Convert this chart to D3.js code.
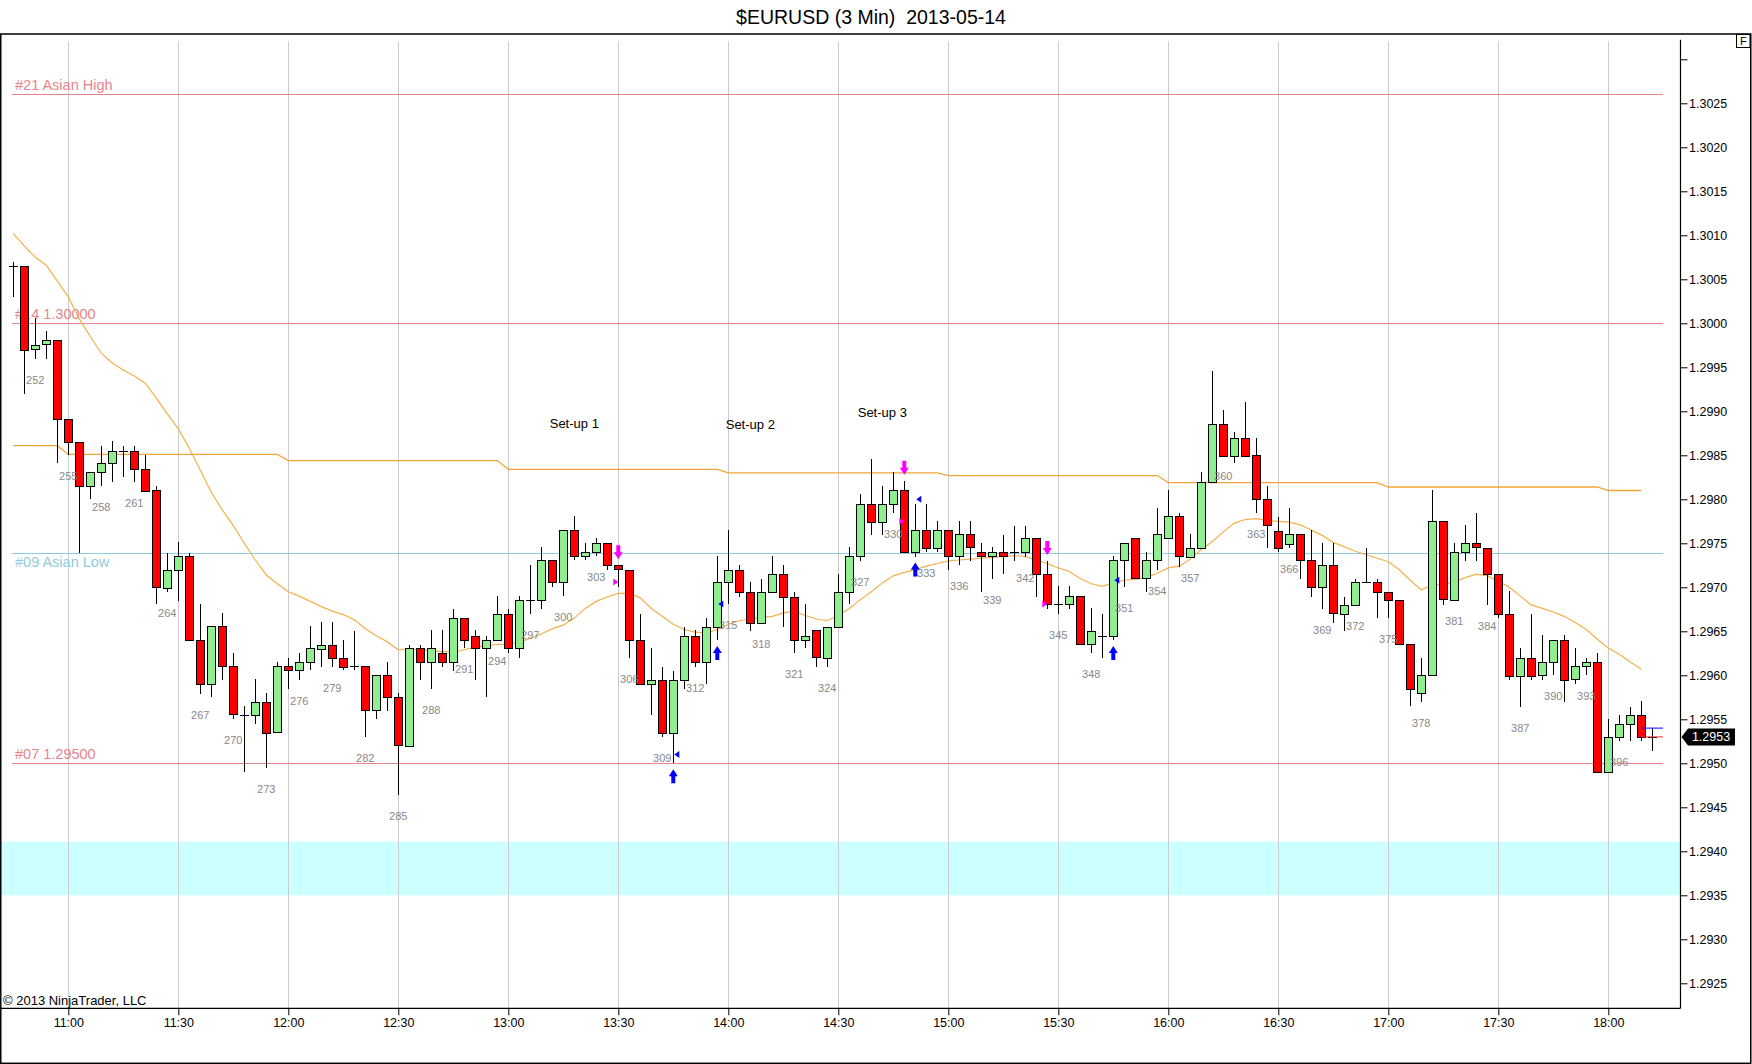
<!DOCTYPE html>
<html><head><meta charset="utf-8">
<script src="https://cdn.jsdelivr.net/npm/d3@7"></script>
<style>
html,body{margin:0;padding:0;background:#fff;}
svg{display:block;font-family:"Liberation Sans",Arial,sans-serif;}
</style></head><body>
<svg id="chart" width="1752" height="1064"></svg>
<script>
// ---------------- DATA ----------------
const chartTitle = "$EURUSD (3 Min)  2013-05-14";
const firstBar = 250;
const lastBar = 399;

const openP = [
1.30065,1.30065,1.29970,1.29976,1.29981,1.29891,1.29865,1.29815,1.29831,1.29841,
1.29855,1.29855,1.29835,1.29810,1.29700,1.29720,1.29736,1.29640,1.29590,1.29656,
1.29610,1.29555,1.29555,1.29570,1.29535,1.29610,1.29606,1.29615,1.29631,1.29635,
1.29620,1.29610,1.29610,1.29560,1.29600,1.29575,1.29520,1.29631,1.29615,1.29625,
1.29615,1.29665,1.29645,1.29631,1.29640,1.29670,1.29631,1.29685,1.29685,1.29731,
1.29706,1.29765,1.29736,1.29740,1.29750,1.29725,1.29720,1.29640,1.29590,1.29595,
1.29535,1.29595,1.29645,1.29615,1.29655,1.29706,1.29720,1.29695,1.29660,1.29695,
1.29715,1.29689,1.29640,1.29651,1.29620,1.29655,1.29695,1.29736,1.29795,1.29775,
1.29795,1.29811,1.29740,1.29765,1.29745,1.29765,1.29735,1.29760,1.29740,1.29735,
1.29740,1.29740,1.29740,1.29756,1.29715,1.29681,1.29681,1.29690,1.29635,1.29645,
1.29645,1.29731,1.29756,1.29710,1.29731,1.29756,1.29781,1.29735,1.29745,1.29820,
1.29886,1.29850,1.29870,1.29850,1.29800,1.29764,1.29750,1.29761,1.29731,1.29700,
1.29725,1.29670,1.29680,1.29706,1.29706,1.29695,1.29686,1.29636,1.29580,1.29600,
1.29775,1.29686,1.29740,1.29750,1.29745,1.29715,1.29670,1.29600,1.29620,1.29600,
1.29615,1.29640,1.29595,1.29610,1.29615,1.29490,1.29530,1.29545,1.29555,1.29530];

const highP = [
1.30070,1.30065,1.30006,1.29991,1.29981,1.29891,1.29865,1.29831,1.29861,1.29866,
1.29861,1.29861,1.29850,1.29815,1.29739,1.29751,1.29739,1.29681,1.29656,1.29671,
1.29625,1.29565,1.29596,1.29580,1.29615,1.29620,1.29625,1.29656,1.29661,1.29661,
1.29640,1.29650,1.29610,1.29600,1.29615,1.29580,1.29635,1.29635,1.29651,1.29651,
1.29675,1.29665,1.29651,1.29645,1.29690,1.29675,1.29690,1.29725,1.29746,1.29731,
1.29765,1.29781,1.29750,1.29756,1.29750,1.29725,1.29720,1.29670,1.29631,1.29610,
1.29605,1.29655,1.29651,1.29665,1.29736,1.29765,1.29725,1.29706,1.29710,1.29736,
1.29725,1.29695,1.29681,1.29651,1.29655,1.29715,1.29746,1.29806,1.29846,1.29815,
1.29831,1.29821,1.29795,1.29795,1.29775,1.29765,1.29775,1.29775,1.29750,1.29746,
1.29760,1.29770,1.29770,1.29756,1.29730,1.29701,1.29701,1.29690,1.29676,1.29670,
1.29736,1.29750,1.29756,1.29740,1.29790,1.29811,1.29785,1.29761,1.29831,1.29946,
1.29901,1.29876,1.29911,1.29870,1.29815,1.29780,1.29790,1.29761,1.29765,1.29750,
1.29750,1.29689,1.29710,1.29745,1.29710,1.29695,1.29686,1.29636,1.29620,1.29811,
1.29775,1.29750,1.29771,1.29785,1.29745,1.29715,1.29696,1.29631,1.29670,1.29646,
1.29640,1.29646,1.29631,1.29620,1.29625,1.29550,1.29555,1.29564,1.29571,1.29540];

const lowP = [
1.30030,1.29920,1.29960,1.29960,1.29841,1.29850,1.29739,1.29800,1.29815,1.29820,
1.29825,1.29820,1.29810,1.29681,1.29695,1.29684,1.29640,1.29579,1.29575,1.29595,
1.29550,1.29490,1.29545,1.29495,1.29535,1.29585,1.29595,1.29606,1.29610,1.29610,
1.29606,1.29606,1.29530,1.29550,1.29560,1.29464,1.29520,1.29595,1.29585,1.29610,
1.29605,1.29631,1.29595,1.29575,1.29640,1.29625,1.29620,1.29670,1.29675,1.29700,
1.29690,1.29731,1.29731,1.29736,1.29720,1.29700,1.29620,1.29590,1.29555,1.29530,
1.29500,1.29585,1.29610,1.29590,1.29640,1.29681,1.29689,1.29650,1.29660,1.29695,
1.29655,1.29625,1.29631,1.29610,1.29610,1.29655,1.29681,1.29730,1.29760,1.29760,
1.29785,1.29740,1.29735,1.29740,1.29740,1.29720,1.29725,1.29730,1.29695,1.29710,
1.29715,1.29730,1.29735,1.29689,1.29675,1.29670,1.29675,1.29635,1.29625,1.29620,
1.29640,1.29700,1.29710,1.29695,1.29720,1.29756,1.29723,1.29735,1.29745,1.29820,
1.29850,1.29841,1.29850,1.29785,1.29745,1.29740,1.29745,1.29710,1.29689,1.29675,
1.29660,1.29650,1.29680,1.29706,1.29665,1.29665,1.29636,1.29565,1.29570,1.29600,
1.29680,1.29686,1.29730,1.29730,1.29680,1.29665,1.29595,1.29564,1.29595,1.29595,
1.29600,1.29570,1.29590,1.29600,1.29490,1.29490,1.29525,1.29525,1.29525,1.29514];

const closeP = [
1.30065,1.29970,1.29975,1.29981,1.29891,1.29865,1.29815,1.29831,1.29841,1.29855,
1.29855,1.29835,1.29810,1.29700,1.29720,1.29736,1.29640,1.29590,1.29656,1.29610,
1.29555,1.29555,1.29570,1.29535,1.29610,1.29606,1.29615,1.29631,1.29635,1.29620,
1.29610,1.29610,1.29560,1.29600,1.29575,1.29520,1.29631,1.29615,1.29631,1.29615,
1.29665,1.29640,1.29631,1.29640,1.29670,1.29631,1.29685,1.29685,1.29731,1.29706,
1.29765,1.29736,1.29740,1.29750,1.29725,1.29720,1.29640,1.29590,1.29595,1.29535,
1.29595,1.29645,1.29615,1.29655,1.29706,1.29720,1.29695,1.29660,1.29695,1.29715,
1.29689,1.29640,1.29645,1.29620,1.29655,1.29695,1.29736,1.29795,1.29775,1.29795,
1.29811,1.29740,1.29765,1.29745,1.29765,1.29735,1.29760,1.29745,1.29735,1.29740,
1.29735,1.29740,1.29756,1.29715,1.29681,1.29681,1.29690,1.29635,1.29650,1.29645,
1.29731,1.29750,1.29710,1.29731,1.29761,1.29781,1.29735,1.29745,1.29820,1.29886,
1.29850,1.29870,1.29850,1.29800,1.29770,1.29745,1.29761,1.29731,1.29700,1.29725,
1.29670,1.29680,1.29706,1.29706,1.29695,1.29686,1.29636,1.29585,1.29600,1.29775,
1.29686,1.29740,1.29750,1.29745,1.29715,1.29670,1.29600,1.29620,1.29600,1.29615,
1.29640,1.29595,1.29610,1.29615,1.29490,1.29530,1.29545,1.29555,1.29530,1.29530];

// fast moving average (bars 250..398)
const fastMA = [
1.30102,1.30088,1.30075,1.30066,1.30048,1.30030,1.30005,1.29985,1.29966,1.29955,
1.29947,1.29940,1.29932,1.29915,1.29897,1.29880,1.29858,1.29833,1.29808,1.29788,
1.29770,1.29750,1.29731,1.29714,1.29704,1.29695,1.29690,1.29684,1.29678,1.29673,
1.29669,1.29663,1.29653,1.29645,1.29638,1.29629,1.29630,1.29629,1.29628,1.29627,
1.29626,1.29629,1.29632,1.29634,1.29635,1.29635,1.29638,1.29642,1.29647,1.29653,
1.29657,1.29665,1.29676,1.29684,1.29689,1.29693,1.29693,1.29688,1.29676,1.29667,
1.29658,1.29652,1.29649,1.29648,1.29652,1.29658,1.29662,1.29664,1.29666,1.29667,
1.29671,1.29673,1.29668,1.29664,1.29662,1.29668,1.29676,1.29686,1.29695,1.29705,
1.29713,1.29717,1.29720,1.29724,1.29727,1.29730,1.29731,1.29732,1.29733,1.29734,
1.29735,1.29736,1.29735,1.29731,1.29727,1.29722,1.29718,1.29710,1.29704,1.29701,
1.29705,1.29708,1.29709,1.29711,1.29716,1.29722,1.29724,1.29732,1.29743,1.29752,
1.29763,1.29773,1.29777,1.29778,1.29776,1.29775,1.29774,1.29771,1.29765,1.29759,
1.29751,1.29746,1.29741,1.29737,1.29733,1.29729,1.29720,1.29708,1.29697,1.29703,
1.29703,1.29706,1.29711,1.29715,1.29713,1.29707,1.29700,1.29690,1.29680,1.29676,
1.29672,1.29667,1.29660,1.29652,1.29641,1.29631,1.29624,1.29615,1.29607];

// slow stepped line (bars 250..398)
const slowMA = [
1.29861,1.29861,1.29861,1.29861,1.29861,
1.29851,1.29851,1.29851,1.29851,1.29851,1.29851,1.29851,1.29851,1.29851,1.29851,
1.29851,1.29851,1.29851,1.29851,1.29851,1.29851,1.29851,1.29851,1.29851,1.29851,
1.29844,1.29844,1.29844,1.29844,1.29844,1.29844,1.29844,1.29844,1.29844,1.29844,
1.29844,1.29844,1.29844,1.29844,1.29844,1.29844,1.29844,1.29844,1.29844,1.29844,
1.29834,1.29834,1.29834,1.29834,1.29834,1.29834,1.29834,1.29834,1.29834,1.29834,
1.29834,1.29834,1.29834,1.29834,1.29834,1.29834,1.29834,1.29834,1.29834,1.29834,
1.29830,1.29830,1.29830,1.29830,1.29830,1.29830,1.29830,1.29830,1.29830,1.29830,
1.29830,1.29830,1.29830,1.29830,1.29830,1.29830,1.29830,1.29830,1.29830,1.29830,
1.29827,1.29827,1.29827,1.29827,1.29827,1.29827,1.29827,1.29827,1.29827,1.29827,
1.29827,1.29827,1.29827,1.29827,1.29827,1.29827,1.29827,1.29827,1.29827,1.29827,
1.29819,1.29819,1.29819,1.29819,1.29819,1.29819,1.29819,1.29819,1.29819,1.29819,
1.29819,1.29819,1.29819,1.29819,1.29819,1.29819,1.29819,1.29819,1.29819,1.29819,
1.29814,1.29814,1.29814,1.29814,1.29814,1.29814,1.29814,1.29814,1.29814,1.29814,
1.29814,1.29814,1.29814,1.29814,1.29814,1.29814,1.29814,1.29814,1.29814,1.29814,
1.29810,1.29810,1.29810,1.29810];

const levelNames  = ["#21 Asian High", "#14 1.30000", "#09 Asian Low", "#07 1.29500"];
const levelPrices = [1.30261, 1.30000, 1.29739, 1.29500];
const levelColors = ["#e8838d", "#e8838d", "#8fcbe0", "#e8838d"];
const levelLabelBelow = [false, false, true, false];

const zoneLow = 1.29350, zoneHigh = 1.29411;

const timeBars   = [255,265,275,285,295,305,315,325,335,345,355,365,375,385,395];
const timeLabels = ["11:00","11:30","12:00","12:30","13:00","13:30","14:00","14:30","15:00","15:30","16:00","16:30","17:00","17:30","18:00"];

const priceTicks = [1.2925,1.2930,1.2935,1.2940,1.2945,1.2950,1.2955,1.2960,1.2965,1.2970,1.2975,1.2980,1.2985,1.2990,1.2995,1.3000,1.3005,1.3010,1.3015,1.3020,1.3025,1.3030];

const setupNames  = ["Set-up 1", "Set-up 2", "Set-up 3"];
const setupBars   = [301, 317, 329];
const setupPrices = [1.29887, 1.29886, 1.29899];

const sellArrowBars = [305, 331, 344];
const buyArrowBars  = [310, 314, 332, 350];
const sellMarkBars   = [305, 331, 344];
const sellMarkPrices = [1.29706, 1.29775, 1.29681];
const buyMarkBars    = [310, 314, 332, 350];
const buyMarkPrices  = [1.29510, 1.29681, 1.29800, 1.29708];

const lastPrice = 1.2953;
const askPrice = 1.2954;

// ---------------- DRAW ----------------
const svg = d3.select("#chart");
const plotTop = 41.7, plotBottom = 1008.3, axisX = 1680.5;

const x = d3.scaleLinear().domain([firstBar, lastBar]).range([13.3, 1652.3]);
const y = d3.scaleLinear().domain([1.2925, 1.3030]).range([983.3, 59.3]);

// title
svg.append("text").attr("x", 871).attr("y", 23.5).attr("text-anchor", "middle")
  .attr("font-size", 19.5).attr("fill", "#000").style("white-space", "pre")
  .attr("xml:space", "preserve").text(chartTitle);

// zone
svg.append("rect").attr("x", 1).attr("width", axisX - 1)
  .attr("y", y(zoneHigh)).attr("height", y(zoneLow) - y(zoneHigh)).attr("fill", "#ccffff");

// time gridlines
svg.append("g").selectAll("line").data(timeBars).join("line")
  .attr("x1", d => Math.round(x(d)) + 0.5).attr("x2", d => Math.round(x(d)) + 0.5)
  .attr("y1", plotTop).attr("y2", plotBottom)
  .attr("stroke", "#cbcbcb").attr("stroke-width", 1);

// level lines
const lv = svg.append("g");
levelPrices.forEach((p, k) => {
  const yy = Math.round(y(p)) + 0.5;
  lv.append("line").attr("x1", 11.7).attr("x2", 1663).attr("y1", yy).attr("y2", yy)
    .attr("stroke", levelColors[k]).attr("stroke-width", 1);
  lv.append("text").attr("x", 15).attr("y", levelLabelBelow[k] ? yy + 13 : yy - 4.5)
    .attr("font-size", 14.5).attr("fill", levelColors[k]).text(levelNames[k]);
});

// moving averages
const lineGen = d3.line().x((d, k) => x(firstBar + k)).y(d => y(d));
svg.append("path").attr("d", lineGen(slowMA)).attr("fill", "none")
  .attr("stroke", "#f2a536").attr("stroke-width", 1.3);
svg.append("path").attr("d", lineGen(fastMA)).attr("fill", "none")
  .attr("stroke", "#f4b04a").attr("stroke-width", 1.2);

// candles
const bars = d3.range(openP.length).map(k => ({
  i: firstBar + k, o: openP[k], h: highP[k], l: lowP[k], c: closeP[k]
}));
const cg = svg.append("g").attr("shape-rendering", "crispEdges");
const bw = 8;
bars.forEach(b => {
  const cx = Math.round(x(b.i)) + 0.5;
  cg.append("line").attr("x1", cx).attr("x2", cx)
    .attr("y1", y(b.h)).attr("y2", y(b.l)).attr("stroke", "#000").attr("stroke-width", 1);
  if (b.o === b.c) {
    cg.append("line").attr("x1", cx - bw / 2 - 0.5).attr("x2", cx + bw / 2 + 0.5)
      .attr("y1", Math.round(y(b.o)) + 0.5).attr("y2", Math.round(y(b.o)) + 0.5)
      .attr("stroke", "#000").attr("stroke-width", 1);
  } else {
    const top = y(Math.max(b.o, b.c)), bot = y(Math.min(b.o, b.c));
    cg.append("rect").attr("x", cx - bw / 2).attr("width", bw)
      .attr("y", Math.round(top) + 0.5).attr("height", Math.max(1, Math.round(bot - top)))
      .attr("fill", b.c > b.o ? "#90ee90" : "#ff0000")
      .attr("stroke", "#000").attr("stroke-width", 1);
  }
});

// bar numbers
svg.append("g").selectAll("text")
  .data(bars.filter(b => b.i >= 252 && b.i <= 396 && (b.i - 252) % 3 === 0)).join("text")
  .attr("x", b => x(b.i)).attr("y", b => y(b.l) + 25).attr("text-anchor", "middle")
  .attr("font-size", 11).attr("fill", "#888").text(b => b.i);

// set-up labels
setupNames.forEach((s, k) => {
  svg.append("text").attr("x", x(setupBars[k])).attr("y", y(setupPrices[k]) + 5)
    .attr("text-anchor", "middle").attr("font-size", 13).attr("fill", "#000").text(s);
});

// markers
const mg = svg.append("g");
const byBar = i => bars[i - firstBar];
sellArrowBars.forEach(i => {
  const cx = x(i), bottom = y(byBar(i).h) - 6, top = bottom - 14;
  mg.append("path").attr("d",
    `M${cx-2},${top} L${cx+2},${top} L${cx+2},${top+7} L${cx+4.5},${top+7} L${cx},${bottom} L${cx-4.5},${top+7} L${cx-2},${top+7} Z`)
    .attr("fill", "#ff00ff");
});
buyArrowBars.forEach(i => {
  const cx = x(i), top = y(byBar(i).l) + 6, bottom = top + 14;
  mg.append("path").attr("d",
    `M${cx},${top} L${cx+4.5},${top+7} L${cx+2},${top+7} L${cx+2},${bottom} L${cx-2},${bottom} L${cx-2},${top+7} L${cx-4.5},${top+7} Z`)
    .attr("fill", "#0000ff");
});
sellMarkBars.forEach((i, k) => {
  const cx = x(i), cy = y(sellMarkPrices[k]);
  mg.append("path").attr("d", `M${cx},${cy} L${cx-5},${cy-3.5} L${cx-5},${cy+3.5} Z`).attr("fill", "#ff00ff");
});
buyMarkBars.forEach((i, k) => {
  const cx = x(i) + 1, cy = y(buyMarkPrices[k]);
  mg.append("path").attr("d", `M${cx},${cy} L${cx+5},${cy-3.5} L${cx+5},${cy+3.5} Z`).attr("fill", "#0000ff");
});

// current price lines
svg.append("line").attr("x1", 1641.7).attr("x2", 1663).attr("y1", y(askPrice)).attr("y2", y(askPrice))
  .attr("stroke", "#0000ff").attr("stroke-width", 1);
svg.append("line").attr("x1", 1641.7).attr("x2", 1663).attr("y1", y(lastPrice)).attr("y2", y(lastPrice))
  .attr("stroke", "#e03030").attr("stroke-width", 1);

// price axis
const yAxis = d3.axisRight(y).tickValues(priceTicks).tickSize(7).tickPadding(1.5)
  .tickFormat(d => d > 1.30295 ? "" : d3.format(".4f")(d));
const ya = svg.append("g").attr("transform", `translate(${axisX},0)`).call(yAxis);
ya.select(".domain").remove();
ya.selectAll("text").attr("font-size", 12.5).attr("font-family", "Liberation Sans, Arial, sans-serif").attr("fill", "#000");
ya.selectAll("line").attr("stroke", "#000");
svg.append("line").attr("x1", axisX).attr("x2", axisX).attr("y1", 39.7).attr("y2", plotBottom)
  .attr("stroke", "#000").attr("stroke-width", 1.2);

// time axis
const xAxis = d3.axisBottom(x).tickValues(timeBars).tickSize(7).tickPadding(3)
  .tickFormat((d, k) => timeLabels[k]);
const xa = svg.append("g").attr("transform", `translate(0,${plotBottom})`).call(xAxis);
xa.select(".domain").remove();
xa.selectAll("text").attr("font-size", 12.5).attr("font-family", "Liberation Sans, Arial, sans-serif").attr("fill", "#000");
xa.selectAll("line").attr("stroke", "#000");
svg.append("line").attr("x1", 0).attr("x2", axisX).attr("y1", plotBottom).attr("y2", plotBottom)
  .attr("stroke", "#000").attr("stroke-width", 1.2);

// last price tag
const ty = y(lastPrice);
svg.append("path").attr("d",
  `M1681.5,${ty} L1688,${ty-8.5} L1735,${ty-8.5} L1735,${ty+8.5} L1688,${ty+8.5} Z`).attr("fill", "#000");
svg.append("text").attr("x", 1711).attr("y", ty + 4.5).attr("text-anchor", "middle")
  .attr("font-size", 12.5).attr("fill", "#fff").text(d3.format(".4f")(lastPrice));

// copyright
svg.append("text").attr("x", 3).attr("y", 1004.5).attr("font-size", 13).attr("fill", "#000")
  .text("© 2013 NinjaTrader, LLC");

// frame
svg.append("rect").attr("x", 0.75).attr("y", 34).attr("width", 1750).attr("height", 1029.3)
  .attr("fill", "none").attr("stroke", "#000").attr("stroke-width", 1.5);

// F box
svg.append("rect").attr("x", 1736.5).attr("y", 34.5).attr("width", 13.5).attr("height", 13)
  .attr("fill", "#fff").attr("stroke", "#000").attr("stroke-width", 1);
svg.append("text").attr("x", 1743.3).attr("y", 45.3).attr("text-anchor", "middle")
  .attr("font-size", 11).attr("fill", "#000").text("F");
</script>
</body></html>
